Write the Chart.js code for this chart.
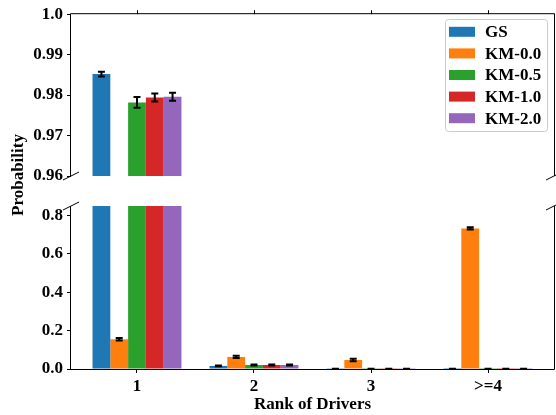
<!DOCTYPE html>
<html><head><meta charset="utf-8">
<script src="https://cdn.jsdelivr.net/npm/chart.js@4/dist/chart.umd.min.js"></script>
<style>
html,body{margin:0;padding:0;background:#fff;}
#wrap{position:relative;width:556px;height:415px;overflow:hidden;}
canvas{position:absolute;left:0;top:0;}
</style></head><body>
<div id="wrap"><canvas id="cBottom" width="556" height="415"></canvas><canvas id="cTop" width="556" height="415"></canvas></div>
<script>
// ---- data ----
const categories = ['1', '2', '3', '>=4'];
const seriesNames = ['GS', 'KM-0.0', 'KM-0.5', 'KM-1.0', 'KM-2.0'];
const gsValues   = [0.9852, 0.016, 0.0008, 0.0003];
const km00Values = [0.155, 0.063, 0.047, 0.733];
const km05Values = [0.9782, 0.021, 0.0008, 0.0005];
const km10Values = [0.9794, 0.021, 0.0008, 0.0005];
const km20Values = [0.9796, 0.021, 0.0008, 0.0005];
const gsErrors   = [0.0006, 0.002, 0.0006, 0.0004];
const km00Errors = [0.007, 0.006, 0.006, 0.006];
const km05Errors = [0.0013, 0.003, 0.0006, 0.0006];
const km10Errors = [0.001, 0.003, 0.0006, 0.0006];
const km20Errors = [0.001, 0.003, 0.0006, 0.0006];
const topTickValues = [0.96, 0.97, 0.98, 0.99, 1.0];
const topTickLabels = ['0.96', '0.97', '0.98', '0.99', '1.0'];
const bottomTickValues = [0.0, 0.2, 0.4, 0.6, 0.8];
const bottomTickLabels = ['0.0', '0.2', '0.4', '0.6', '0.8'];
const xTitle = 'Rank of Drivers';
const yTitle = 'Probability';

const colors = ['#1f77b4', '#ff7f0e', '#2ca02c', '#d62728', '#9467bd'];
const allValues = [gsValues, km00Values, km05Values, km10Values, km20Values];
const allErrors = [gsErrors, km00Errors, km05Errors, km10Errors, km20Errors];

const FONT = "'Liberation Serif', 'Times New Roman', serif";
const tickFont = { family: FONT, size: 17, weight: 'bold' };

function makeDatasets() {
  return seriesNames.map((name, i) => ({
    label: name,
    data: allValues[i].map((v, j) => ({ x: j, y: v })),
    errors: allErrors[i],
    backgroundColor: colors[i],
    borderWidth: 0,
    clip: 0,
    categoryPercentage: 0.76,
    barPercentage: 1.0
  }));
}

const errorBarPlugin = {
  id: 'errbars',
  afterDatasetsDraw(chart) {
    const ctx = chart.ctx, a = chart.chartArea, ys = chart.scales.y;
    ctx.save();
    ctx.beginPath();
    ctx.rect(a.left, a.top, a.right - a.left, a.bottom - a.top + 3);
    ctx.clip();
    ctx.strokeStyle = '#000';
    ctx.lineWidth = 2;
    chart.data.datasets.forEach((ds, i) => {
      const meta = chart.getDatasetMeta(i);
      meta.data.forEach((el, j) => {
        const v = ds.data[j].y, e = ds.errors[j];
        const y1 = ys.getPixelForValue(v - e), y2 = ys.getPixelForValue(v + e);
        const x = el.x;
        ctx.beginPath();
        ctx.moveTo(x, y1); ctx.lineTo(x, y2);
        ctx.moveTo(x - 3.5, y1); ctx.lineTo(x + 3.5, y1);
        ctx.moveTo(x - 3.5, y2); ctx.lineTo(x + 3.5, y2);
        ctx.stroke();
      });
    });
    ctx.restore();
  }
};

function breakMark(ctx, x, y) {
  ctx.beginPath();
  ctx.moveTo(x - 8, y + 4);
  ctx.lineTo(x + 8, y - 4);
  ctx.stroke();
}

const topDecor = {
  id: 'topDecor',
  afterDraw(chart) {
    const ctx = chart.ctx, a = chart.chartArea, xs = chart.scales.x;
    ctx.save();
    ctx.strokeStyle = '#000';
    ctx.lineWidth = 1;
    ctx.beginPath();
    ctx.moveTo(a.left - 0.5, a.bottom); ctx.lineTo(a.left - 0.5, a.top - 0.5);
    ctx.lineTo(a.right + 0.5, a.top - 0.5); ctx.lineTo(a.right + 0.5, a.bottom);
    ctx.stroke();
    categories.forEach((c, i) => {
      const px = Math.round(xs.getPixelForValue(i)) + 0.5;
      ctx.beginPath(); ctx.moveTo(px, a.top); ctx.lineTo(px, a.top - 4); ctx.stroke();
    });
    breakMark(ctx, a.left, a.bottom);
    breakMark(ctx, a.right, a.bottom);
    // legend
    const lx = 445.5, ly = 19.5, lw = 102, lh = 112, r = 3;
    ctx.beginPath();
    ctx.moveTo(lx + r, ly); ctx.lineTo(lx + lw - r, ly); ctx.arcTo(lx + lw, ly, lx + lw, ly + r, r);
    ctx.lineTo(lx + lw, ly + lh - r); ctx.arcTo(lx + lw, ly + lh, lx + lw - r, ly + lh, r);
    ctx.lineTo(lx + r, ly + lh); ctx.arcTo(lx, ly + lh, lx, ly + lh - r, r);
    ctx.lineTo(lx, ly + r); ctx.arcTo(lx, ly, lx + r, ly, r);
    ctx.closePath();
    ctx.fillStyle = 'rgba(255,255,255,0.8)';
    ctx.fill();
    ctx.strokeStyle = '#cccccc';
    ctx.stroke();
    ctx.font = 'bold 17px ' + FONT;
    ctx.textBaseline = 'middle';
    ctx.textAlign = 'left';
    seriesNames.forEach((n, i) => {
      const cy = 31.8 + i * 21.6;
      ctx.fillStyle = colors[i];
      ctx.fillRect(449, cy - 5, 26, 10);
      ctx.fillStyle = '#000';
      ctx.fillText(n, 485, cy + 1);
    });
    ctx.restore();
  }
};

const bottomDecor = {
  id: 'bottomDecor',
  afterDraw(chart) {
    const ctx = chart.ctx, a = chart.chartArea;
    ctx.save();
    ctx.strokeStyle = '#000';
    ctx.lineWidth = 1;
    ctx.beginPath();
    ctx.moveTo(a.left - 0.5, a.top); ctx.lineTo(a.left - 0.5, a.bottom + 0.5);
    ctx.lineTo(a.right + 0.5, a.bottom + 0.5); ctx.lineTo(a.right + 0.5, a.top);
    ctx.stroke();
    breakMark(ctx, a.left, a.top);
    breakMark(ctx, a.right, a.top);
    ctx.fillStyle = '#000';
    ctx.font = 'bold 17px ' + FONT;
    ctx.textAlign = 'center';
    ctx.textBaseline = 'middle';
    ctx.fillText(xTitle, (a.left + a.right) / 2, 405);
    ctx.translate(19, 175);
    ctx.rotate(-Math.PI / 2);
    ctx.fillText(yTitle, 0, 0);
    ctx.restore();
  }
};

function xScale(display) {
  return {
    type: 'linear',
    min: -0.564, max: 3.564,
    offset: false,
    display: display,
    afterBuildTicks: s => { s.ticks = categories.map((c, i) => ({ value: i })); },
    afterFit: s => { if (display) s.height = 46; },
    grid: { offset: false, drawOnChartArea: false, drawTicks: true, tickLength: 4, color: '#000' },
    border: { display: false },
    ticks: { font: tickFont, color: '#000', padding: 3, maxRotation: 0, callback: (v, i) => categories[i] }
  };
}

function yScale(min, max, vals, labels) {
  return {
    type: 'linear',
    min: min, max: max,
    afterBuildTicks: s => { s.ticks = vals.map(v => ({ value: v })); },
    afterFit: s => { s.width = 71; },
    grid: { drawOnChartArea: false, drawTicks: true, tickLength: 4, color: '#000' },
    border: { display: false },
    ticks: { font: tickFont, color: '#000', padding: 4, callback: (v, i) => labels[i] }
  };
}

const common = {
  responsive: false,
  animation: false,
  devicePixelRatio: 1,
  plugins: { legend: { display: false }, tooltip: { enabled: false } }
};

new Chart(document.getElementById('cTop'), {
  type: 'bar',
  data: { datasets: makeDatasets() },
  options: Object.assign({}, common, {
    layout: { padding: { left: 0, top: 13, right: 2, bottom: 239 } },
    scales: { x: xScale(false), y: yScale(0.96, 1.0, topTickValues, topTickLabels) }
  }),
  plugins: [errorBarPlugin, topDecor]
});

new Chart(document.getElementById('cBottom'), {
  type: 'bar',
  data: { datasets: makeDatasets() },
  options: Object.assign({}, common, {
    layout: { padding: { left: 0, top: 206, right: 2, bottom: 0 } },
    scales: { x: xScale(true), y: yScale(0, 0.85, bottomTickValues, bottomTickLabels) }
  }),
  plugins: [errorBarPlugin, bottomDecor]
});
</script>
</body></html>
